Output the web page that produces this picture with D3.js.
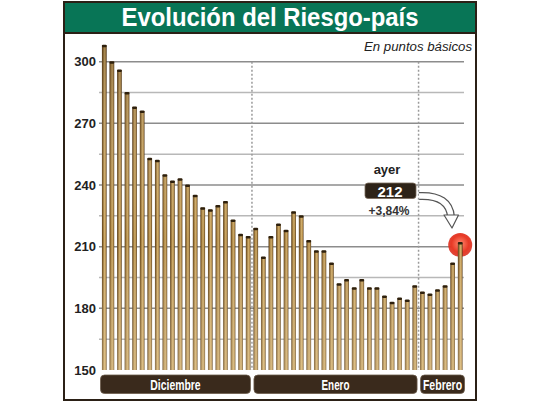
<!DOCTYPE html>
<html>
<head>
<meta charset="utf-8">
<title>Evolución del Riesgo-país</title>
<script src="https://cdn.jsdelivr.net/npm/d3@7"></script>
<style>
  body { margin: 0; background: #fff; }
  svg { display: block; }
</style>
</head>
<body>
<div id="chart"></div>
<script>
// valores diarios del riesgo-país (puntos básicos)
var values = [308, 300, 296, 285, 278, 276, 253, 252, 245, 242, 243, 240, 235, 229, 228, 230, 232, 223, 216, 215,
              219, 205, 215, 221, 218, 227, 225, 213, 208, 208, 202, 192, 194, 190, 194, 190, 190, 186, 183, 185, 184, 191,
              188, 187, 189, 191, 202, 212];
var months = ['Diciembre', 'Enero', 'Febrero'];
var monthStart = [0, 20, 42];
var monthEnd = [20, 42, 48];
var yTicks = [150, 180, 210, 240, 270, 300];
var gridValues = [165, 180, 195, 210, 225, 240, 255, 270, 285, 300];
var lastLabel = '212';
var lastChange = '+3,84%';

var width = 540, height = 405;

var svg = d3.select('#chart').append('svg')
    .attr('width', width)
    .attr('height', height);

var x = d3.scaleBand()
    .domain(d3.range(values.length))
    .range([100.5, 464])
    .paddingInner(0.38)
    .paddingOuter(0.19);

var y = d3.scaleLinear()
    .domain([150, 300])
    .range([370, 61.7]);

var defs = svg.append('defs');

var barGrad = defs.append('linearGradient').attr('id', 'barGrad')
    .attr('x1', 0).attr('x2', 1).attr('y1', 0).attr('y2', 0);
[['0%', '#4a3112'], ['20%', '#8a652c'], ['55%', '#cfac68'], ['78%', '#b48c4a'], ['100%', '#4d3414']]
    .forEach(function (s) { barGrad.append('stop').attr('offset', s[0]).attr('stop-color', s[1]); });

var shade = defs.append('linearGradient').attr('id', 'shade')
    .attr('gradientUnits', 'userSpaceOnUse')
    .attr('x1', 0).attr('x2', 0).attr('y1', 45).attr('y2', 370);
shade.append('stop').attr('offset', '0%').attr('stop-color', '#3a2610').attr('stop-opacity', 0.3);
shade.append('stop').attr('offset', '60%').attr('stop-color', '#ffffff').attr('stop-opacity', 0);
shade.append('stop').attr('offset', '100%').attr('stop-color', '#fff0d0').attr('stop-opacity', 0.3);

var redGrad = defs.append('radialGradient').attr('id', 'redGrad')
    .attr('cx', '50%').attr('cy', '45%').attr('r', '55%');
redGrad.append('stop').attr('offset', '0%').attr('stop-color', '#ff8a70');
redGrad.append('stop').attr('offset', '65%').attr('stop-color', '#e83a26');
redGrad.append('stop').attr('offset', '100%').attr('stop-color', '#d9291a').attr('stop-opacity', 0.85);

// marco
svg.append('rect')
    .attr('x', 64).attr('y', 2).attr('width', 412).attr('height', 398)
    .attr('fill', '#fff').attr('stroke', '#2b2016').attr('stroke-width', 2);

// titulo
svg.append('rect')
    .attr('x', 65).attr('y', 3).attr('width', 410).attr('height', 29)
    .attr('fill', '#087556');
svg.append('line')
    .attr('x1', 64).attr('x2', 476).attr('y1', 33).attr('y2', 33)
    .attr('stroke', '#2b2016').attr('stroke-width', 2);
svg.append('text')
    .attr('x', 270).attr('y', 26)
    .attr('text-anchor', 'middle')
    .attr('textLength', 297).attr('lengthAdjust', 'spacingAndGlyphs')
    .style('font-family', 'Liberation Sans, Arial, sans-serif')
    .style('font-weight', 'bold').style('font-size', '26px')
    .attr('fill', '#fff')
    .text('Evolución del Riesgo-país');

svg.append('text')
    .attr('x', 472).attr('y', 51)
    .attr('text-anchor', 'end')
    .attr('textLength', 108).attr('lengthAdjust', 'spacingAndGlyphs')
    .style('font-family', 'Liberation Sans, Arial, sans-serif')
    .style('font-style', 'italic').style('font-size', '12px')
    .attr('fill', '#222')
    .text('En puntos básicos');

// grilla
svg.append('g').selectAll('line')
    .data(gridValues)
    .enter().append('line')
    .attr('x1', 99).attr('x2', 464)
    .attr('y1', function (d) { return y(d); })
    .attr('y2', function (d) { return y(d); })
    .attr('stroke', function (d) { return d % 30 === 0 ? '#8c8c8c' : '#b8b8b8'; })
    .attr('stroke-width', 1.5);

// separadores de mes
svg.append('g').selectAll('line')
    .data(monthStart.slice(1))
    .enter().append('line')
    .attr('x1', function (d) { return x(d) - x.step() * x.paddingInner() / 2; })
    .attr('x2', function (d) { return x(d) - x.step() * x.paddingInner() / 2; })
    .attr('y1', y(300)).attr('y2', y(150))
    .attr('stroke', '#9a9a9a').attr('stroke-width', 1.5)
    .attr('stroke-dasharray', '2,2');

// eje y
var yAxis = svg.append('g')
    .attr('transform', 'translate(97,0)')
    .call(d3.axisLeft(y).tickValues(yTicks).tickSize(0).tickPadding(1));
yAxis.select('.domain').remove();
yAxis.selectAll('text')
    .style('font-family', 'Liberation Sans, Arial, sans-serif')
    .style('font-weight', 'bold').style('font-size', '13px')
    .attr('fill', '#222');

// punto rojo del ultimo dato
var last = values.length - 1;
svg.append('circle')
    .attr('cx', x(last) + x.bandwidth() / 2)
    .attr('cy', y(values[last]) + 2.5)
    .attr('r', 12)
    .attr('fill', 'url(#redGrad)');

// barras
var bars = svg.append('g').selectAll('g')
    .data(values)
    .enter().append('g');
bars.append('rect')
    .attr('x', function (d, i) { return x(i); })
    .attr('y', function (d) { return y(d); })
    .attr('width', x.bandwidth())
    .attr('height', function (d) { return y(150) - y(d); })
    .attr('fill', 'url(#barGrad)');
bars.append('rect')
    .attr('x', function (d, i) { return x(i); })
    .attr('y', function (d) { return y(d); })
    .attr('width', x.bandwidth())
    .attr('height', function (d) { return y(150) - y(d); })
    .attr('fill', 'url(#shade)');
bars.append('rect')
    .attr('x', function (d, i) { return x(i); })
    .attr('y', function (d) { return y(d) - 0.5; })
    .attr('width', x.bandwidth())
    .attr('height', 2.5)
    .attr('rx', 1)
    .attr('fill', '#2e200d');

// cajas de meses
var half = x.step() * x.paddingInner() / 2;
function boxX0(i) { return i === 0 ? 100.5 : x(monthStart[i]) - half + 2; }
function boxX1(i) { return i === months.length - 1 ? 464.5 : x(monthEnd[i]) - half - 1.5; }

var mBox = svg.append('g').selectAll('g')
    .data(months)
    .enter().append('g');
mBox.append('rect')
    .attr('x', function (d, i) { return boxX0(i); })
    .attr('width', function (d, i) { return boxX1(i) - boxX0(i); })
    .attr('y', 375).attr('height', 18.5)
    .attr('rx', 4)
    .attr('fill', '#3a2a1c')
    .attr('stroke', '#6b5a4a').attr('stroke-width', 0.8);
mBox.append('text')
    .attr('x', function (d, i) { return (boxX0(i) + boxX1(i)) / 2; })
    .attr('y', 390)
    .attr('text-anchor', 'middle')
    .attr('textLength', function (d) { return d.length * 5.6; })
    .attr('lengthAdjust', 'spacingAndGlyphs')
    .style('font-family', 'Liberation Sans, Arial, sans-serif')
    .style('font-weight', 'bold').style('font-size', '14.5px')
    .attr('fill', '#fff')
    .text(function (d) { return d; });

// anotacion "ayer"
svg.append('text')
    .attr('x', 387).attr('y', 174)
    .attr('text-anchor', 'middle')
    .style('font-family', 'Liberation Sans, Arial, sans-serif')
    .style('font-weight', 'bold').style('font-size', '13px')
    .attr('fill', '#222')
    .text('ayer');
svg.append('rect')
    .attr('x', 365).attr('y', 183).attr('width', 51).attr('height', 15.5)
    .attr('rx', 3)
    .attr('fill', '#2e2318')
    .attr('stroke', '#7a6a5a').attr('stroke-width', 0.8);
svg.append('text')
    .attr('x', 390).attr('y', 196.5)
    .attr('text-anchor', 'middle')
    .style('font-family', 'Liberation Sans, Arial, sans-serif')
    .style('font-weight', 'bold').style('font-size', '15px')
    .attr('fill', '#fff')
    .text(lastLabel);
svg.append('text')
    .attr('x', 389).attr('y', 215)
    .attr('text-anchor', 'middle')
    .style('font-family', 'Liberation Sans, Arial, sans-serif')
    .style('font-weight', 'bold').style('font-size', '12px')
    .attr('fill', '#333')
    .text(lastChange);

// flecha curva
var arrowPath = 'M419,196 C440,195 450,203 451,217';
svg.append('path').attr('d', arrowPath)
    .attr('fill', 'none').attr('stroke', '#555').attr('stroke-width', 8);
svg.append('path').attr('d', arrowPath)
    .attr('fill', 'none').attr('stroke', '#fff').attr('stroke-width', 5.5);
svg.append('path')
    .attr('d', 'M444,215 L458.5,215 L452,228 Z')
    .attr('fill', '#fff').attr('stroke', '#555').attr('stroke-width', 1.2)
    .attr('stroke-linejoin', 'round');
</script>
</body>
</html>
